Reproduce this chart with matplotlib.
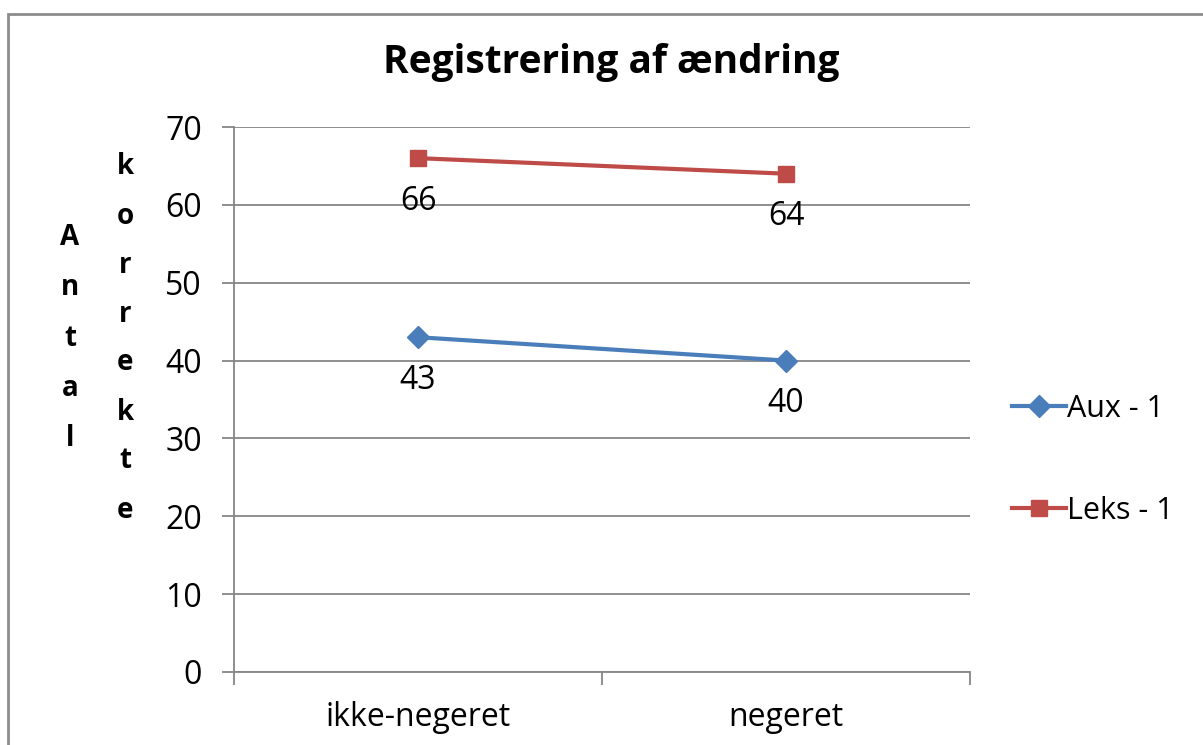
import matplotlib
matplotlib.use("Agg")
import matplotlib.pyplot as plt
from matplotlib.patches import Rectangle

categories = ["ikke-negeret", "negeret"]
series_names = ["Aux - 1", "Leks - 1"]
aux_values = [43, 40]
leks_values = [66, 64]
yticks = [0, 10, 20, 30, 40, 50, 60, 70]
title = "Registrering af ændring"
ylabel_words = ["Antal", "korrekte"]

FONT = "Open Sans"
blue = "#4A7EBB"
red = "#BE4B48"
grid_c = "#868686"

W, H = 1203, 745
fig = plt.figure(figsize=(W / 100, H / 100), dpi=100)
fig.patch.set_facecolor("white")

# outer chart border
fig.add_artist(Rectangle((8 / W, -0.05), 1.2, 1 - 14 / H + 0.05, transform=fig.transFigure,
                         fill=False, edgecolor="#8C8C8C", lw=2))

ax = fig.add_axes([234 / W, 1 - 672 / H, (970 - 234) / W, (672 - 127) / H])
x = list(range(len(categories)))

ax.plot(x, aux_values, color=blue, lw=3, marker="D", markersize=11, label=series_names[0], zorder=3)
ax.plot(x, leks_values, color=red, lw=3, marker="s", markersize=12, label=series_names[1], zorder=3)

for xi, v in zip(x, aux_values):
    ax.annotate(str(v), (xi, v), xytext=(0, -31), textcoords="offset points",
                ha="center", va="center", fontsize=23, family=FONT, color="black")
for xi, v in zip(x, leks_values):
    ax.annotate(str(v), (xi, v), xytext=(0, -31), textcoords="offset points",
                ha="center", va="center", fontsize=23, family=FONT, color="black")

ax.set_xlim(-0.5, len(categories) - 0.5)
ax.set_ylim(0, 70)
ax.set_yticks(yticks)
ax.set_yticklabels([str(t) for t in yticks], family=FONT, fontsize=23)
ax.yaxis.grid(True, color=grid_c, lw=1.3)
ax.set_axisbelow(True)
ax.tick_params(axis="y", length=9, width=1.3, color=grid_c, pad=14)

ax.set_xticks(x)
ax.set_xticklabels(categories, family=FONT, fontsize=23)
ax.set_xticks([i - 0.5 for i in range(len(categories) + 1)], minor=True)
ax.tick_params(axis="x", which="major", length=0, pad=21)
ax.tick_params(axis="x", which="minor", length=9, width=1.3, color=grid_c)

for s in ["top", "right"]:
    ax.spines[s].set_visible(False)
for s in ["left", "bottom"]:
    ax.spines[s].set_color(grid_c)
    ax.spines[s].set_linewidth(1.3)

fig.text(611 / W, 1 - 63 / H, title, family=FONT, fontsize=28, fontweight="bold",
         ha="center", va="center")

# stacked vertical y-label
starts = [(70, 237, 50.5), (125, 167, 49)]
for word, (px, py0, step) in zip(ylabel_words, starts):
    for i, ch in enumerate(word):
        fig.text(px / W, 1 - (py0 + i * step) / H, ch, family=FONT, fontsize=20,
                 fontweight="bold", ha="center", va="center")

leg = fig.legend(loc="center left", bbox_to_anchor=(997 / W, 1 - 460 / H), frameon=False,
                 prop={"family": FONT, "size": 22}, labelspacing=2.35, handlelength=1.75,
                 handletextpad=0.05, borderpad=0)

fig.savefig("out.png", dpi=100)
